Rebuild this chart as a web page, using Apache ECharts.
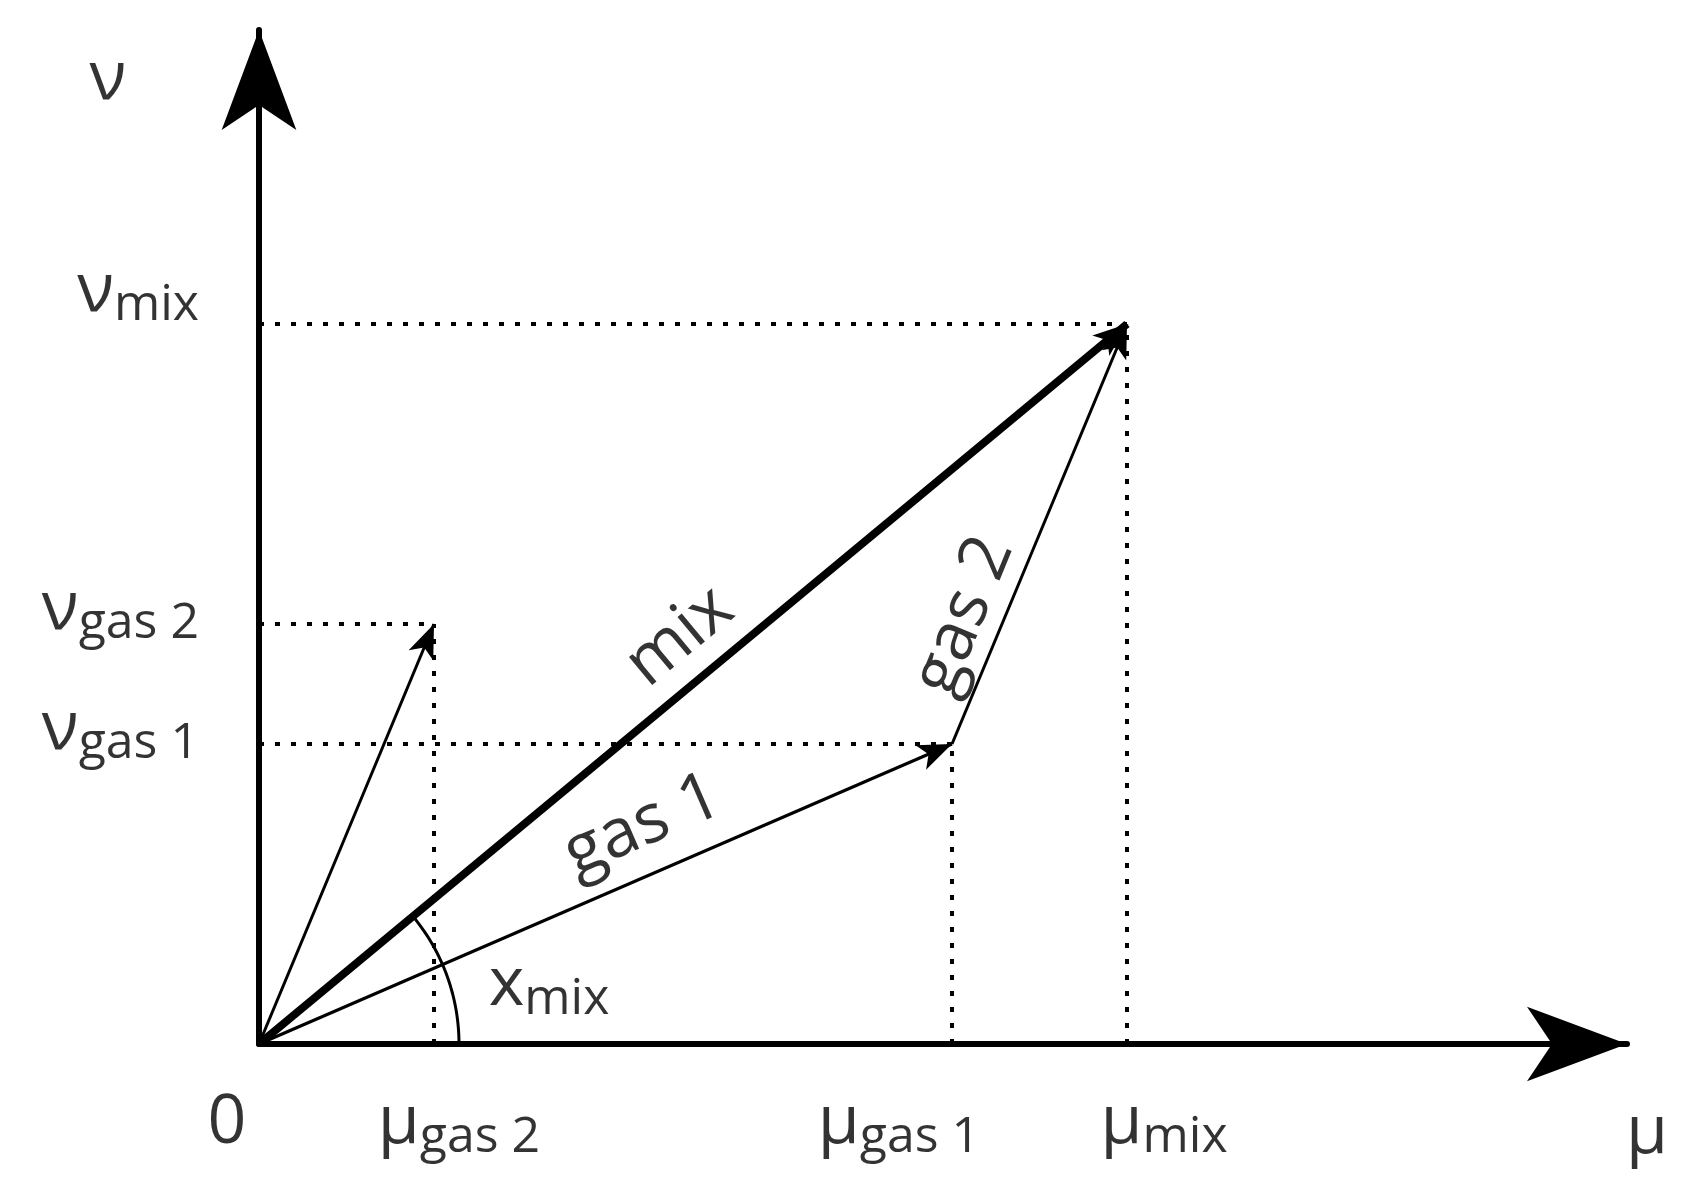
<!DOCTYPE html>
<html>
<head>
<meta charset="utf-8">
<script src="https://cdn.jsdelivr.net/npm/echarts@6/dist/echarts.min.js"></script>
<style>html,body{margin:0;background:#fff}#c{width:1686px;height:1188px}</style>
</head>
<body>
<div id="c"></div>
<script>
// vector end points (mu, nu)
const gas1 = [693, 300]
const gas2 = [175, 420]
const mix = [868, 720]
const xMax = 1368
const yMax = 1014
const arcR = 200

const chart = echarts.init(document.getElementById('c'))
const F = '"Open Sans", "Noto Sans", sans-serif'

function sub(main, s) {
  return '{m|' + main + '}{s|' + s + '}'
}
const rich = {
  m: { fontSize: 68, fontFamily: F, color: '#000' },
  s: { fontSize: 50, fontFamily: F, color: '#000', padding: [28, 0, 0, 0] }
}

// labels: [x, y, text, rotate, align]
const labels = [
  [-151, 964, '{m|ν}', 0, 'center'],
  [-60, 752, sub('ν', 'mix'), 0, 'right'],
  [-60, 434, sub('ν', 'gas 2'), 0, 'right'],
  [-60, 314, sub('ν', 'gas 1'), 0, 'right'],
  [-32, -80, '{m|0}', 0, 'center'],
  [200, -80, sub('μ', 'gas 2'), 0, 'center'],
  [640, -80, sub('μ', 'gas 1'), 0, 'center'],
  [905, -80, sub('μ', 'mix'), 0, 'center'],
  [1388, -90, '{m|μ}', 0, 'center'],
  [421, 407, '{m|mix}', 39.7, 'center'],
  [384, 218, '{m|gas 1}', 23.4, 'center'],
  [705, 428, '{m|gas 2}', 67.7, 'center'],
  [290, 58, sub('x', 'mix'), 0, 'center']
]

const arc = []
const a1 = Math.atan2(mix[1], mix[0])
for (let i = 0; i <= 30; i++) {
  const a = a1 * i / 30
  arc.push([arcR * Math.cos(a), arcR * Math.sin(a)])
}

const dotted = { type: [5, 11], width: 4, color: '#000' }
const vec = (from, to, w) => [
  { coord: from, lineStyle: { width: w, color: '#000', type: 'solid' } },
  { coord: to }
]

chart.setOption({
  animation: false,
  grid: { left: 259, top: 30, width: xMax, height: yMax },
  xAxis: {
    type: 'value', min: 0, max: xMax,
    splitLine: { show: false }, axisTick: { show: false }, axisLabel: { show: false },
    axisLine: { show: true, onZero: false, symbol: ['none', 'arrow'], symbolSize: [56, 100], lineStyle: { color: '#000', width: 6 } }
  },
  yAxis: {
    type: 'value', min: 0, max: yMax,
    splitLine: { show: false }, axisTick: { show: false }, axisLabel: { show: false },
    axisLine: { show: true, onZero: false, symbol: ['none', 'arrow'], symbolSize: [56, 100], lineStyle: { color: '#000', width: 6 } }
  },
  series: [
    {
      type: 'line', data: arc, symbol: 'none', lineStyle: { color: '#000', width: 3 }, z: 3,
      markLine: {
        silent: true, symbol: 'none', label: { show: false }, lineStyle: dotted,
        data: [
          [{ coord: [0, mix[1]] }, { coord: mix }],
          [{ coord: [mix[0], 0] }, { coord: mix }],
          [{ coord: [0, gas1[1]] }, { coord: gas1 }],
          [{ coord: [gas1[0], 0] }, { coord: gas1 }],
          [{ coord: [0, gas2[1]] }, { coord: gas2 }],
          [{ coord: [gas2[0], 0] }, { coord: gas2 }]
        ]
      }
    },
    {
      type: 'line', data: [], z: 4,
      markLine: {
        silent: true, symbol: ['none', 'arrow'], symbolSize: [20, 34], label: { show: false },
        data: [
          vec([0, 0], gas1, 3),
          vec([0, 0], gas2, 3),
          vec(gas1, mix, 3),
          vec([0, 0], mix, 8)
        ]
      }
    },
    {
      type: 'scatter', symbolSize: 0, z: 5, clip: false,
      data: labels.map(l => ({
        value: [l[0], l[1]],
        label: { show: true, position: 'inside', color: '#000', formatter: l[2], rich: rich, rotate: l[3], align: l[4] }
      }))
    }
  ]
})
</script>
</body>
</html>
